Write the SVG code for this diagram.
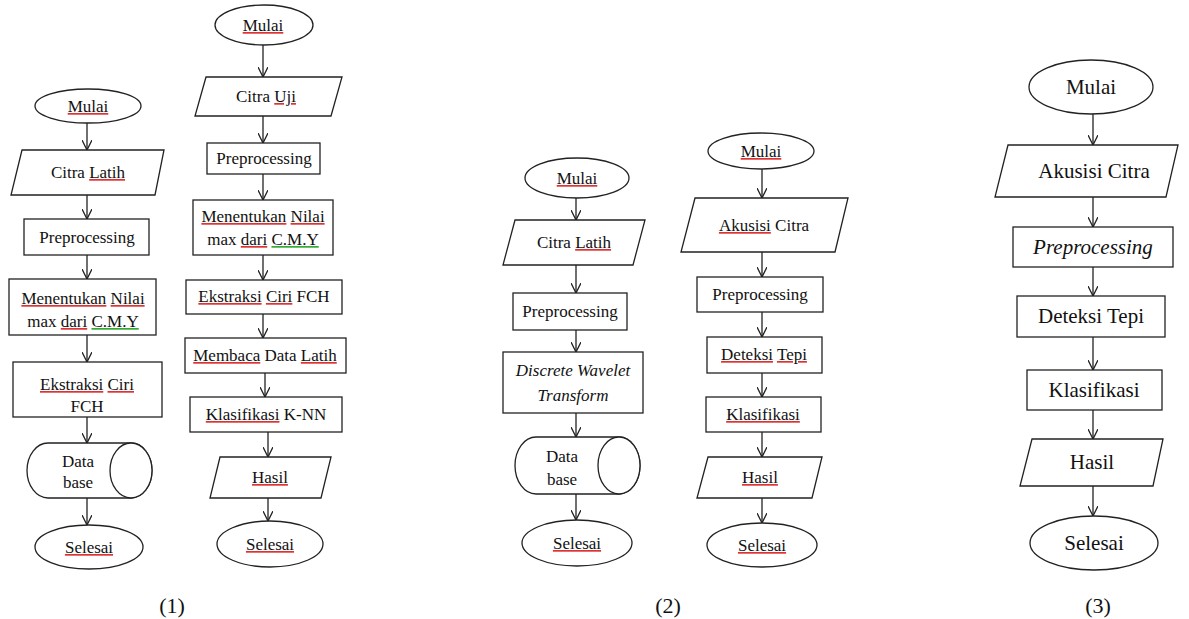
<svg xmlns="http://www.w3.org/2000/svg" width="1189" height="619" viewBox="0 0 1189 619">
<style>
.s{fill:#fff;stroke:#222;stroke-width:1.3}
.t{font-family:"Liberation Serif","Times New Roman",serif;font-size:17px;fill:#111;text-anchor:middle}
.b{font-size:21px}
.i{font-style:italic}
.u{fill:#d33;text-decoration:underline}
.g{fill:#3a3;text-decoration:underline}
.k{fill:#111}
.c line{stroke:#222;stroke-width:1.3;marker-end:url(#a)}
.lab{font-family:"Liberation Serif","Times New Roman",serif;font-size:22px;fill:#111;text-anchor:middle}
</style>
<defs>
<marker id="a" viewBox="0 0 10 10" refX="10" refY="5" markerWidth="10" markerHeight="10" markerUnits="userSpaceOnUse" orient="auto">
<path d="M0,0 L10,5 L0,10" fill="none" stroke="#222" stroke-width="1.3"/>
</marker>
</defs>
<rect width="1189" height="619" fill="#fff"/>

<!-- Chart 1a -->
<g id="c1a-mulai"><ellipse class="s" cx="88" cy="106" rx="53" ry="17"/><text class="t" x="88" y="112"><tspan class="u"><tspan class="k">Mulai</tspan></tspan></text></g>
<g id="c1a-citra"><polygon class="s" points="22,150 164,150 155,195 11,195"/><text class="t" x="88" y="178">Citra <tspan class="u"><tspan class="k">Latih</tspan></tspan></text></g>
<g id="c1a-prep"><rect class="s" x="24" y="219" width="125" height="36"/><text class="t" x="87" y="243">Preprocessing</text></g>
<g id="c1a-menentukan"><rect class="s" x="9" y="279" width="147" height="56"/><text class="t" x="83" y="304"><tspan class="u"><tspan class="k">Menentukan</tspan></tspan> <tspan class="u"><tspan class="k">Nilai</tspan></tspan></text><text class="t" x="83" y="327">max <tspan class="u"><tspan class="k">dari</tspan></tspan> <tspan class="g"><tspan class="k">C.M.Y</tspan></tspan></text></g>
<g id="c1a-ekstraksi"><rect class="s" x="13" y="362" width="149" height="55"/><text class="t" x="87" y="390"><tspan class="u"><tspan class="k">Ekstraksi</tspan></tspan> <tspan class="u"><tspan class="k">Ciri</tspan></tspan></text><text class="t" x="87" y="412">FCH</text></g>
<g id="c1a-db"><path class="s" d="M48,443 L131,443 A21,27.5 0 0 1 131,498 L48,498 A21,27.5 0 0 1 48,443 Z"/><ellipse class="s" cx="131" cy="470.5" rx="21" ry="27.5"/><text class="t" x="78" y="467">Data</text><text class="t" x="78" y="488">base</text></g>
<g id="c1a-selesai"><ellipse class="s" cx="89" cy="547" rx="54" ry="22"/><text class="t" x="89" y="553"><tspan class="u"><tspan class="k">Selesai</tspan></tspan></text></g>

<!-- Chart 1b -->
<g id="c1b-mulai"><ellipse class="s" cx="264" cy="25" rx="49" ry="20"/><text class="t" x="263" y="31"><tspan class="u"><tspan class="k">Mulai</tspan></tspan></text></g>
<g id="c1b-citra"><polygon class="s" points="206,77 342,77 331,116 195,116"/><text class="t" x="266" y="102">Citra <tspan class="u"><tspan class="k">Uji</tspan></tspan></text></g>
<g id="c1b-prep"><rect class="s" x="207" y="143" width="113" height="31"/><text class="t" x="264" y="164">Preprocessing</text></g>
<g id="c1b-menentukan"><rect class="s" x="193" y="200" width="140" height="55"/><text class="t" x="263" y="222"><tspan class="u"><tspan class="k">Menentukan</tspan></tspan> <tspan class="u"><tspan class="k">Nilai</tspan></tspan></text><text class="t" x="263" y="245">max <tspan class="u"><tspan class="k">dari</tspan></tspan> <tspan class="g"><tspan class="k">C.M.Y</tspan></tspan></text></g>
<g id="c1b-ekstraksi"><rect class="s" x="186" y="280" width="156" height="34"/><text class="t" x="264" y="302"><tspan class="u"><tspan class="k">Ekstraksi</tspan></tspan> <tspan class="u"><tspan class="k">Ciri</tspan></tspan> FCH</text></g>
<g id="c1b-membaca"><rect class="s" x="185" y="338" width="161" height="35"/><text class="t" x="265" y="361"><tspan class="u"><tspan class="k">Membaca</tspan></tspan> Data <tspan class="u"><tspan class="k">Latih</tspan></tspan></text></g>
<g id="c1b-klasifikasi"><rect class="s" x="190" y="397" width="152" height="35"/><text class="t" x="266" y="420"><tspan class="u"><tspan class="k">Klasifikasi</tspan></tspan> K-NN</text></g>
<g id="c1b-hasil"><polygon class="s" points="220,457 331,457 321,498 210,498"/><text class="t" x="270" y="483"><tspan class="u"><tspan class="k">Hasil</tspan></tspan></text></g>
<g id="c1b-selesai"><ellipse class="s" cx="270" cy="544" rx="53" ry="23"/><text class="t" x="270" y="550"><tspan class="u"><tspan class="k">Selesai</tspan></tspan></text></g>

<!-- Chart 2a -->
<g id="c2a-mulai"><ellipse class="s" cx="577" cy="178" rx="52" ry="20"/><text class="t" x="577" y="184"><tspan class="u"><tspan class="k">Mulai</tspan></tspan></text></g>
<g id="c2a-citra"><polygon class="s" points="515,220 645,220 633,265 503,265"/><text class="t" x="574" y="248">Citra <tspan class="u"><tspan class="k">Latih</tspan></tspan></text></g>
<g id="c2a-prep"><rect class="s" x="513" y="293" width="114" height="37"/><text class="t" x="570" y="317">Preprocessing</text></g>
<g id="c2a-dwt"><rect class="s" x="503" y="352" width="140" height="61"/><text class="t i" x="573" y="376">Discrete Wavelet</text><text class="t i" x="573" y="401">Transform</text></g>
<g id="c2a-db"><path class="s" d="M536,437 L619,437 A21,28.5 0 0 1 619,494 L536,494 A21,28.5 0 0 1 536,437 Z"/><ellipse class="s" cx="619" cy="465.5" rx="21" ry="28.5"/><text class="t" x="562" y="462">Data</text><text class="t" x="562" y="485">base</text></g>
<g id="c2a-selesai"><ellipse class="s" cx="577" cy="543" rx="55" ry="23"/><text class="t" x="577" y="549"><tspan class="u"><tspan class="k">Selesai</tspan></tspan></text></g>

<!-- Chart 2b -->
<g id="c2b-mulai"><ellipse class="s" cx="761" cy="151" rx="53" ry="18"/><text class="t" x="761" y="157"><tspan class="u"><tspan class="k">Mulai</tspan></tspan></text></g>
<g id="c2b-akusisi"><polygon class="s" points="695,198 848,198 835,252 681,252"/><text class="t" x="764" y="231"><tspan class="u"><tspan class="k">Akusisi</tspan></tspan> Citra</text></g>
<g id="c2b-prep"><rect class="s" x="697" y="277" width="126" height="35"/><text class="t" x="760" y="300">Preprocessing</text></g>
<g id="c2b-deteksi"><rect class="s" x="707" y="337" width="115" height="36"/><text class="t" x="764" y="360"><tspan class="u"><tspan class="k">Deteksi</tspan></tspan> <tspan class="u"><tspan class="k">Tepi</tspan></tspan></text></g>
<g id="c2b-klasifikasi"><rect class="s" x="706" y="397" width="115" height="35"/><text class="t" x="763" y="420"><tspan class="u"><tspan class="k">Klasifikasi</tspan></tspan></text></g>
<g id="c2b-hasil"><polygon class="s" points="708,457 822,457 812,498 697,498"/><text class="t" x="760" y="483"><tspan class="u"><tspan class="k">Hasil</tspan></tspan></text></g>
<g id="c2b-selesai"><ellipse class="s" cx="762" cy="545" rx="55" ry="22"/><text class="t" x="762" y="551"><tspan class="u"><tspan class="k">Selesai</tspan></tspan></text></g>

<!-- Chart 3 -->
<g id="c3-mulai"><ellipse class="s" cx="1091" cy="87" rx="62" ry="27"/><text class="t b" x="1091" y="94">Mulai</text></g>
<g id="c3-akusisi"><polygon class="s" points="1008,145 1178,145 1166,197 995,197"/><text class="t b" x="1094" y="178">Akusisi Citra</text></g>
<g id="c3-prep"><rect class="s" x="1013" y="227" width="160" height="40"/><text class="t b i" x="1093" y="254">Preprocessing</text></g>
<g id="c3-deteksi"><rect class="s" x="1017" y="296" width="148" height="41"/><text class="t b" x="1091" y="323">Deteksi Tepi</text></g>
<g id="c3-klasifikasi"><rect class="s" x="1027" y="370" width="135" height="40"/><text class="t b" x="1094" y="397">Klasifikasi</text></g>
<g id="c3-hasil"><polygon class="s" points="1032,439 1163,439 1153,486 1020,486"/><text class="t b" x="1092" y="469">Hasil</text></g>
<g id="c3-selesai"><ellipse class="s" cx="1094" cy="543" rx="64" ry="27"/><text class="t b" x="1094" y="550">Selesai</text></g>

<g id="connectors" class="c">
<line x1="87" y1="123" x2="87" y2="150"/>
<line x1="87" y1="195" x2="87" y2="219"/>
<line x1="87" y1="255" x2="87" y2="279"/>
<line x1="87" y1="335" x2="87" y2="362"/>
<line x1="87" y1="417" x2="87" y2="443"/>
<line x1="87" y1="498" x2="87" y2="525"/>

<line x1="263" y1="45" x2="263" y2="77"/>
<line x1="263" y1="116" x2="263" y2="143"/>
<line x1="263" y1="174" x2="263" y2="200"/>
<line x1="263" y1="255" x2="263" y2="280"/>
<line x1="263" y1="314" x2="263" y2="338"/>
<line x1="265" y1="373" x2="265" y2="397"/>
<line x1="268" y1="432" x2="268" y2="457"/>
<line x1="268" y1="498" x2="268" y2="521"/>

<line x1="576" y1="198" x2="576" y2="220"/>
<line x1="576" y1="265" x2="576" y2="293"/>
<line x1="576" y1="330" x2="576" y2="352"/>
<line x1="576" y1="413" x2="576" y2="437"/>
<line x1="576" y1="494" x2="576" y2="520"/>

<line x1="762" y1="169" x2="762" y2="198"/>
<line x1="762" y1="252" x2="762" y2="277"/>
<line x1="762" y1="312" x2="762" y2="337"/>
<line x1="762" y1="373" x2="762" y2="397"/>
<line x1="762" y1="432" x2="762" y2="457"/>
<line x1="762" y1="498" x2="762" y2="523"/>

<line x1="1093" y1="114" x2="1093" y2="145"/>
<line x1="1093" y1="197" x2="1093" y2="227"/>
<line x1="1093" y1="267" x2="1093" y2="296"/>
<line x1="1093" y1="337" x2="1093" y2="370"/>
<line x1="1093" y1="410" x2="1093" y2="439"/>
<line x1="1093" y1="486" x2="1093" y2="516"/>
</g>

<text class="lab" x="172" y="613">(1)</text>
<text class="lab" x="668" y="613">(2)</text>
<text class="lab" x="1098" y="613">(3)</text>
</svg>
